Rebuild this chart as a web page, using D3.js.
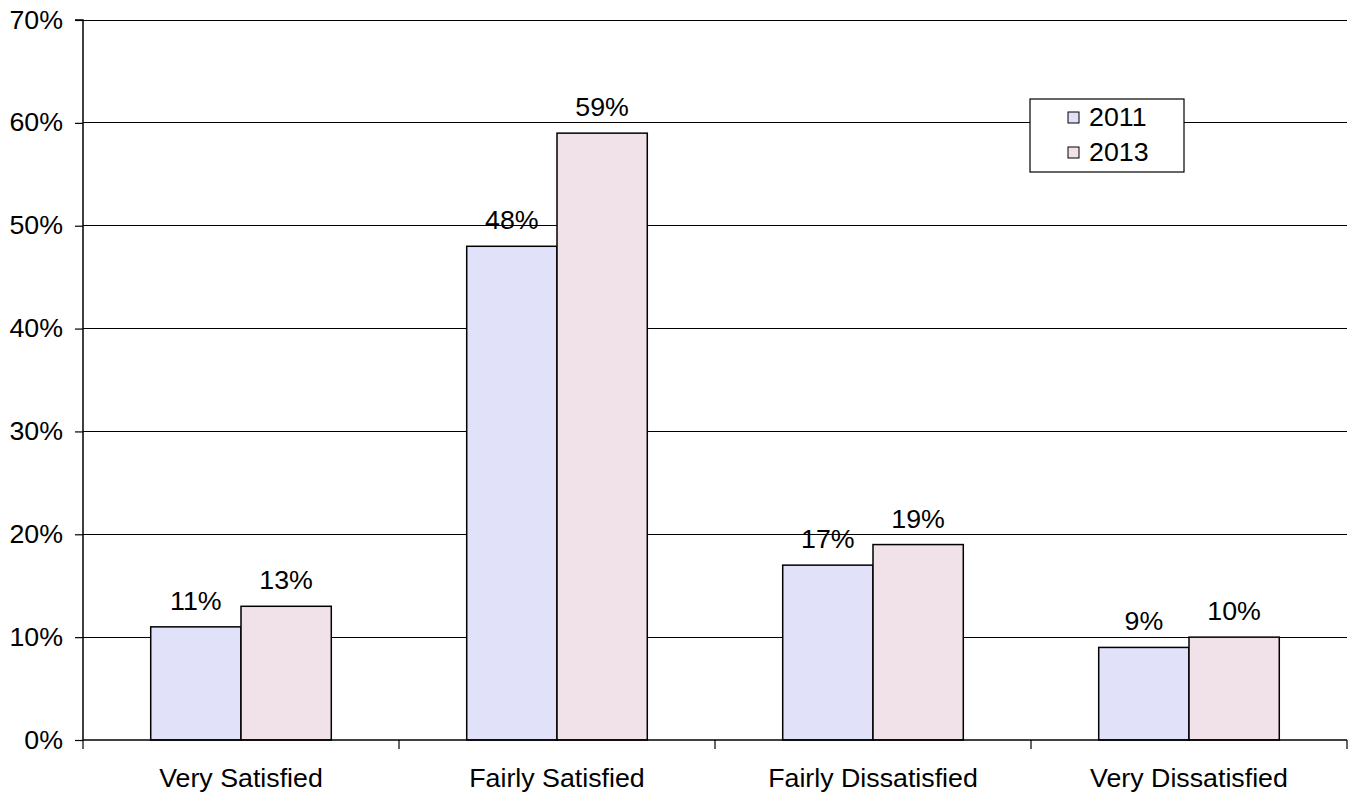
<!DOCTYPE html>
<html><head><meta charset="utf-8">
<script src="https://cdn.jsdelivr.net/npm/d3@7"></script>
<style>body{margin:0;background:#fff}svg{display:block}text{font-family:"Liberation Sans",Arial,sans-serif;fill:#000}</style>
</head><body><svg id="c" width="1355" height="796"></svg>
<script>
const categories = ["Very Satisfied","Fairly Satisfied","Fairly Dissatisfied","Very Dissatisfied"];
const seriesNames = ["2011","2013"];
const values2011 = [11,48,17,9];
const values2013 = [13,59,19,10];
const yTicks = [0,10,20,30,40,50,60,70];
const colors = ["#E1E1FA","#F1E2E9"];

const svg = d3.select("#c");
const L=83, R=1347, T=20, B=740;
const fs = 25;
const x = d3.scaleBand().domain(categories).range([L,R]).paddingInner(0).paddingOuter(0);
const y = d3.scaleLinear().domain([0,70]).range([B,T]);

// gridlines
svg.append("g").selectAll("line").data(yTicks.filter(d=>d>0)).join("line")
  .attr("x1",L).attr("x2",R).attr("y1",d=>y(d)).attr("y2",d=>y(d))
  .attr("stroke","#000").attr("stroke-width",1).attr("shape-rendering","crispEdges");

const data = [];
categories.forEach((c,i)=>{
  data.push({c, s:"2011", v:values2011[i], k:0});
  data.push({c, s:"2013", v:values2013[i], k:1});
});
const bw = x.bandwidth()/3.5;
const bx = d => x(d.c) + x.bandwidth()*0.75/3.5 + d.k*bw;

svg.append("g").selectAll("rect").data(data).join("rect")
  .attr("x",bx).attr("width",bw)
  .attr("y",d=>y(d.v)).attr("height",d=>y(0)-y(d.v))
  .attr("fill",d=>colors[d.k]).attr("stroke","#000").attr("stroke-width",1.5);

svg.append("g").selectAll("text").data(data).join("text")
  .attr("x",d=>bx(d)+bw/2).attr("y",d=>y(d.v)-17)
  .attr("text-anchor","middle").attr("font-size",fs)
  .text(d=>d.v+"%");

// y axis
const ya = svg.append("g").attr("transform",`translate(${L},0)`)
  .call(d3.axisLeft(y).tickValues(yTicks).tickSize(8).tickPadding(12).tickFormat(d=>d+"%"));
ya.select(".domain").attr("stroke","#000").attr("stroke-width",1.5).attr("d",`M-8,${T}H0V${B}`);
ya.selectAll(".tick line").attr("stroke","#000").attr("stroke-width",1.2);
ya.selectAll(".tick text").attr("font-size",fs).attr("font-family","Liberation Sans, Arial, sans-serif").attr("fill","#000");

// x axis
const xa = svg.append("g").attr("transform",`translate(0,${B})`);
xa.append("line").attr("x1",L).attr("x2",R).attr("stroke","#000").attr("stroke-width",1.5);
const edges = categories.map(c=>x(c)).concat([R]);
xa.selectAll("line.t").data(edges).join("line").attr("class","t")
  .attr("x1",d=>d).attr("x2",d=>d).attr("y1",0).attr("y2",9).attr("stroke","#000").attr("stroke-width",1.2);
xa.selectAll("text").data(categories).join("text")
  .attr("x",d=>x(d)+x.bandwidth()/2).attr("y",47)
  .attr("text-anchor","middle").attr("font-size",fs).text(d=>d);

// legend
const lg = svg.append("g");
lg.append("rect").attr("x",1030).attr("y",99).attr("width",154).attr("height",73)
  .attr("fill","#fff").attr("stroke","#000").attr("stroke-width",1.2);
seriesNames.forEach((s,i)=>{
  lg.append("rect").attr("x",1068).attr("y",112+i*35).attr("width",11).attr("height",11)
    .attr("fill",colors[i]).attr("stroke","#000").attr("stroke-width",1);
  lg.append("text").attr("x",1089).attr("y",126+i*35).attr("font-size",fs).text(s);
});

// slight horizontal stretch to match reference glyph widths
svg.selectAll("text").each(function(){
  const len = this.getComputedTextLength();
  d3.select(this).attr("textLength", len*1.07).attr("lengthAdjust","spacingAndGlyphs");
});
</script></body></html>
